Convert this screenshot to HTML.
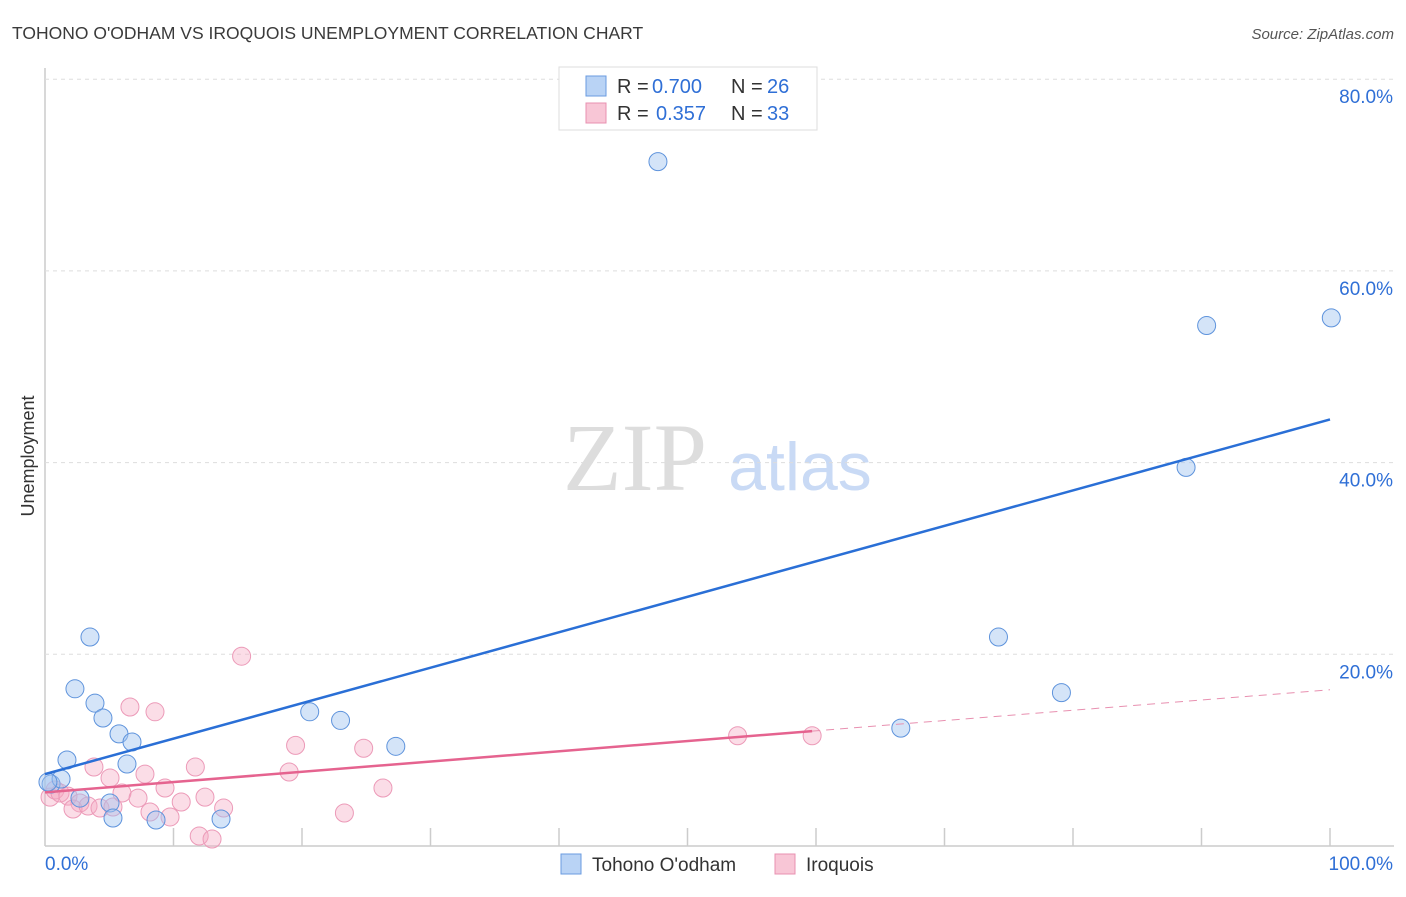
<!DOCTYPE html>
<html><head><meta charset="utf-8"><style>
body{margin:0;background:#fff;font-family:"Liberation Sans",sans-serif;}
</style></head><body>
<svg width="1406" height="892" xmlns="http://www.w3.org/2000/svg" id="svg">
<text x="12" y="39" font-size="17.5" fill="#3a3a3a">TOHONO O'ODHAM VS IROQUOIS UNEMPLOYMENT CORRELATION CHART</text>
<text x="1394" y="39" font-size="15" fill="#555" font-style="italic" text-anchor="end">Source: ZipAtlas.com</text>
<text x="635" y="490" font-size="96" fill="#ddd" font-family="Liberation Serif" text-anchor="middle">ZIP</text>
<text x="800" y="490" font-size="68" fill="#c9daf5" text-anchor="middle">atlas</text>
<text x="34" y="456" font-size="18" fill="#333" transform="rotate(-90 34 456)" text-anchor="middle">Unemployment</text>
<g id="grid"></g><g id="marks"></g>
<g>
<rect x="559" y="67" width="258" height="63" fill="#fff" stroke="#ddd"/>
<rect x="586" y="76" width="20" height="20" fill="#b9d3f5" stroke="#6a9be0"/>
<rect x="586" y="103" width="20" height="20" fill="#f8c6d6" stroke="#e890b0"/>
<text x="617" y="93" font-size="20" fill="#333">R =</text>
<text x="652" y="93" font-size="20" fill="#2f6fd6">0.700</text>
<text x="731" y="93" font-size="20" fill="#333">N =</text>
<text x="767" y="93" font-size="20" fill="#2f6fd6">26</text>
<text x="617" y="120" font-size="20" fill="#333">R =</text>
<text x="656" y="120" font-size="20" fill="#2f6fd6">0.357</text>
<text x="731" y="120" font-size="20" fill="#333">N =</text>
<text x="767" y="120" font-size="20" fill="#2f6fd6">33</text>
</g>
<g>
<rect x="561" y="854" width="20" height="20" fill="#b9d3f5" stroke="#6a9be0"/>
<text x="592" y="871" font-size="19" fill="#333">Tohono O'odham</text>
<rect x="775" y="854" width="20" height="20" fill="#f8c6d6" stroke="#e890b0"/>
<text x="806" y="871" font-size="19" fill="#333">Iroquois</text>
</g>
</svg>
<script>
const yTicks=[20,40,60,80];
const yTickLabels=["20.0%","40.0%","60.0%","80.0%"];
const xTicks=[10,20,30,40,50,60,70,80,90,100];
const blueX=[0.47,1.25,0.23,3.5,2.33,3.89,4.51,5.76,6.77,6.38,1.71,2.72,5.06,5.29,8.64,13.7,20.6,23.0,27.3,47.7,90.4,100.1,88.8,74.2,79.1,66.6];
const blueY=[6.47,6.99,6.68,21.8,16.4,14.9,13.35,11.7,10.85,8.55,8.97,5.0,4.49,2.92,2.71,2.82,14.0,13.1,10.4,71.4,54.3,55.1,39.5,21.8,16.0,12.3];
const pinkX=[0.39,0.78,1.17,1.79,2.72,2.18,3.35,3.81,4.28,5.06,5.29,5.99,6.61,7.24,7.78,8.17,8.56,9.34,9.73,10.6,11.7,12.0,12.45,13.0,13.9,15.3,19.0,19.5,23.3,24.8,26.3,53.9,59.7];
const pinkY=[5.1,5.84,5.53,5.2,4.49,3.86,4.17,8.24,3.96,7.1,4.07,5.53,14.5,5.0,7.5,3.55,14.0,6.05,3.03,4.59,8.24,1.04,5.1,0.73,3.96,19.8,7.72,10.5,3.44,10.2,6.05,11.5,11.5];
const blueTrend=[7.5,44.5];
const pinkTrend=[5.6,16.3];
const pinkSolidEnd=59.7;
const X=v=>45+v*12.85, Y=v=>846-v*9.585;
const NS="http://www.w3.org/2000/svg";
function mk(tag,attrs,parent){const e=document.createElementNS(NS,tag);for(const k in attrs)e.setAttribute(k,attrs[k]);parent.appendChild(e);return e;}
const grid=document.getElementById('grid'),marks=document.getElementById('marks');
let ax=mk('line',{x1:45,y1:68,x2:45,y2:846,stroke:'#ccc','stroke-width':1.5},grid);

let bx=mk('line',{x1:45,y1:846,x2:1394,y2:846,stroke:'#ccc','stroke-width':1.5},grid);

yTicks.forEach((t,i)=>{
 let g=mk('line',{x1:45,y1:Y(t),x2:1394,y2:Y(t),stroke:'#ddd','stroke-dasharray':'4,4'},grid);
 
 let l=mk('text',{x:1393,y:Y(t)+24,'font-size':19,fill:'#2f6fd6','text-anchor':'end'},grid);l.textContent=yTickLabels[i];
 
});
xTicks.forEach(t=>{let k=mk('line',{x1:X(t),y1:828,x2:X(t),y2:846,stroke:'#ccc','stroke-width':1.5},grid);
 });
let x0=mk('text',{x:45,y:870,'font-size':19,fill:'#2f6fd6'},grid);x0.textContent="0.0%";

let x1=mk('text',{x:1393,y:870,'font-size':19,fill:'#2f6fd6','text-anchor':'end'},grid);x1.textContent="100.0%";

pinkX.forEach((v,i)=>{let c=mk('circle',{cx:X(v),cy:Y(pinkY[i]),r:9,fill:'rgba(245,170,195,0.4)',stroke:'#ec9ab8','stroke-width':1},marks);
 });
blueX.forEach((v,i)=>{let c=mk('circle',{cx:X(v),cy:Y(blueY[i]),r:9,fill:'rgba(160,195,240,0.45)',stroke:'#5e93dc','stroke-width':1},marks);
 });
const pAt=x=>pinkTrend[0]+(pinkTrend[1]-pinkTrend[0])*x/100;
let bl=mk('line',{x1:X(0),y1:Y(blueTrend[0]),x2:X(100),y2:Y(blueTrend[1]),stroke:'#2a6fd6','stroke-width':2.5},marks);

let pl=mk('line',{x1:X(0),y1:Y(pAt(0)),x2:X(pinkSolidEnd),y2:Y(pAt(pinkSolidEnd)),stroke:'#e5638f','stroke-width':2.5},marks);

let pd=mk('line',{x1:X(pinkSolidEnd),y1:Y(pAt(pinkSolidEnd)),x2:X(100),y2:Y(pAt(100)),stroke:'#e890b0','stroke-width':1,'stroke-dasharray':'8,6'},marks);

</script>
</body></html>
